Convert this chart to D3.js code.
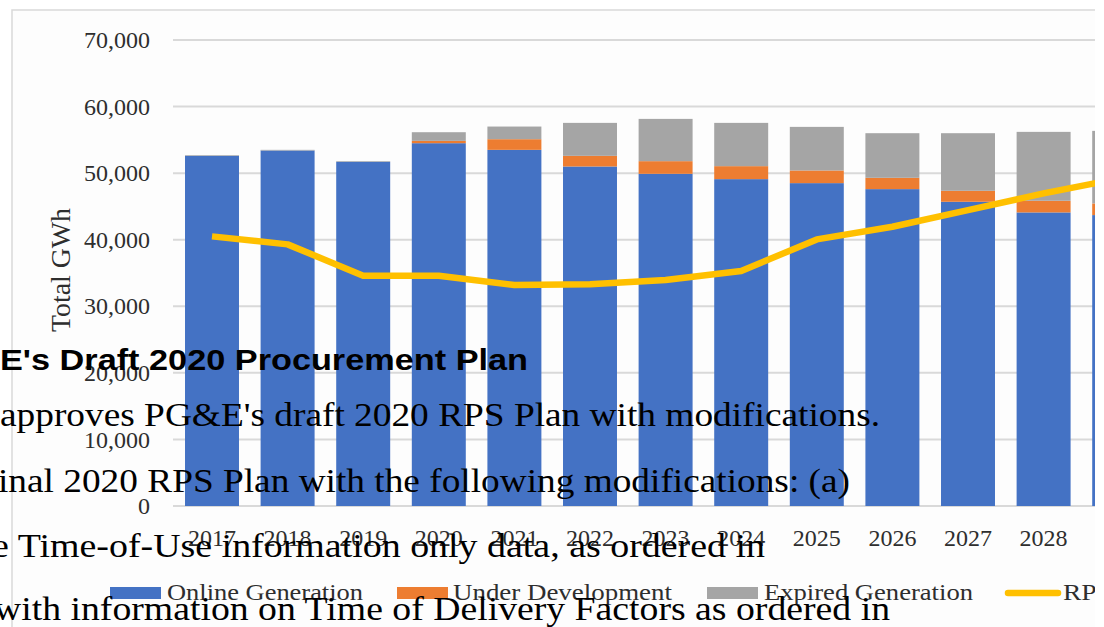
<!DOCTYPE html>
<html>
<head>
<meta charset="utf-8">
<script src="https://cdn.jsdelivr.net/npm/d3@7"></script>
<style>
  html, body { margin: 0; padding: 0; background: #ffffff; overflow: hidden; }
  svg { display: block; }
</style>
</head>
<body>
<svg id="chart" width="1104" height="627"></svg>
<script>
// ---- data ----
const years = ["2017","2018","2019","2020","2021","2022","2023","2024","2025","2026","2027","2028","2029"];
const onlineGeneration = [52600, 53400, 51700, 54500, 53500, 51000, 49900, 49100, 48500, 47600, 45700, 44100, 43700];
const underDevelopment = [0, 0, 0, 350, 1600, 1600, 1900, 1950, 1900, 1700, 1650, 1750, 1750];
const expiredGeneration = [100, 100, 100, 1300, 1900, 4950, 6350, 6500, 6550, 6700, 8650, 10350, 10900];
const rpsRequirement = [40500, 39300, 34600, 34600, 33200, 33300, 33950, 35300, 40050, 41950, 44450, 46950, 49200];
const yTicks = [0, 10000, 20000, 30000, 40000, 50000, 60000, 70000];
const seriesNames = ["Online Generation", "Under Development", "Expired Generation", "RPS Requirement"];
const seriesColors = ["#4472C4", "#ED7D31", "#A5A5A5", "#FFC000"];

// overlay document text
const heading = "E's Draft 2020 Procurement Plan";
const bodyLines = [
  "approves PG&E's draft 2020 RPS Plan with modifications.",
  "inal 2020 RPS Plan with the following modifications: (a)",
  "e Time-of-Use information only data, as ordered in",
  "with information on Time of Delivery Factors as ordered in"
];

const svg = d3.select("#chart");
const serif = "'Liberation Serif', 'Times New Roman', serif";
const labelColor = "#2e2e2e";

// clip for the chart picture (it ends just before the right edge)
svg.append("defs").append("clipPath").attr("id", "chartClip")
  .append("rect").attr("x", 0).attr("y", 0).attr("width", 1095).attr("height", 627);

const chart = svg.append("g").attr("clip-path", "url(#chartClip)");

// chart area background and border
chart.append("rect").attr("x", 12).attr("y", 10).attr("width", 1200).attr("height", 700)
  .attr("fill", "#fdfdfd").attr("stroke", "#d9d9d9").attr("stroke-width", 1.5);

const step = 75.6;
const x = d3.scaleBand().domain(years)
  .range([174.2, 174.2 + step * years.length])
  .paddingInner(0.286).paddingOuter(0.143);
const y = d3.scaleLinear().domain([0, 70000]).range([506, 40]);

// gridlines
chart.append("g").selectAll("line").data(yTicks).join("line")
  .attr("x1", 173).attr("x2", 1096)
  .attr("y1", d => y(d)).attr("y2", d => y(d))
  .attr("stroke", "#d9d9d9").attr("stroke-width", 2);

// y axis labels
const yAxis = d3.axisLeft(y).tickValues(yTicks).tickFormat(d3.format(",")).tickSize(0).tickPadding(0);
const yg = chart.append("g").attr("transform", "translate(150,0)").call(yAxis);
yg.select(".domain").remove();
yg.selectAll("text").attr("font-family", serif).attr("font-size", 24).attr("fill", labelColor);

// x axis labels
const xAxis = d3.axisBottom(x).tickSize(0).tickPadding(0);
const xg = chart.append("g").attr("transform", "translate(0,529)").call(xAxis);
xg.select(".domain").remove();
xg.selectAll("text").attr("font-family", serif).attr("font-size", 24).attr("fill", labelColor);

// stacked bars
const rows = years.map((yr, i) => ({ year: yr, online: onlineGeneration[i], under: underDevelopment[i], expired: expiredGeneration[i] }));
const stack = d3.stack().keys(["online", "under", "expired"])(rows);
chart.append("g").selectAll("g").data(stack).join("g")
  .attr("fill", (d, i) => seriesColors[i])
  .selectAll("rect").data(d => d).join("rect")
  .attr("x", d => x(d.data.year))
  .attr("width", x.bandwidth())
  .attr("y", d => y(d[1]))
  .attr("height", d => Math.max(0, y(d[0]) - y(d[1])));

// RPS line
const line = d3.line().x((d, i) => x(years[i]) + x.bandwidth() / 2).y(d => y(d));
chart.append("path").datum(rpsRequirement).attr("d", line)
  .attr("fill", "none").attr("stroke", seriesColors[3]).attr("stroke-width", 6.5)
  .attr("stroke-linejoin", "round");

// y axis title
chart.append("text").attr("transform", "translate(70,270) rotate(-90)")
  .attr("text-anchor", "middle").attr("font-family", serif).attr("font-size", 27)
  .attr("fill", labelColor).attr("textLength", 124).attr("lengthAdjust", "spacingAndGlyphs")
  .text("Total GWh");

// legend
const legendItems = [
  { name: seriesNames[0], color: seriesColors[0], sx: 110, tx: 167, w: 196, type: "rect" },
  { name: seriesNames[1], color: seriesColors[1], sx: 397, tx: 453, w: 219, type: "rect" },
  { name: seriesNames[2], color: seriesColors[2], sx: 707, tx: 764, w: 209, type: "rect" },
  { name: seriesNames[3], color: seriesColors[3], sx: 1005, tx: 1063, w: 198, type: "line" }
];
const lg = chart.append("g");
legendItems.forEach(it => {
  if (it.type === "rect") {
    lg.append("rect").attr("x", it.sx).attr("y", 587).attr("width", 51).attr("height", 12).attr("fill", it.color);
  } else {
    lg.append("line").attr("x1", it.sx + 3).attr("x2", it.sx + 53).attr("y1", 593).attr("y2", 593)
      .attr("stroke", it.color).attr("stroke-width", 6.5).attr("stroke-linecap", "round");
  }
  lg.append("text").attr("x", it.tx).attr("y", 600).attr("font-family", serif).attr("font-size", 24)
    .attr("fill", labelColor).attr("textLength", it.w).attr("lengthAdjust", "spacingAndGlyphs").text(it.name);
});

// overlay document text
svg.append("text").attr("x", 0).attr("y", 370)
  .attr("font-family", "'Liberation Sans', Arial, sans-serif").attr("font-weight", "bold")
  .attr("font-size", 29).attr("fill", "#000").attr("textLength", 528).attr("lengthAdjust", "spacingAndGlyphs")
  .text(heading);

const bodySpecs = [
  { x: 0, y: 426, w: 880 },
  { x: -2, y: 492, w: 852 },
  { x: -8, y: 557, w: 773 },
  { x: -6, y: 620, w: 896 }
];
bodyLines.forEach((t, i) => {
  svg.append("text").attr("x", bodySpecs[i].x).attr("y", bodySpecs[i].y)
    .attr("font-family", serif).attr("font-size", 34).attr("fill", "#000")
    .attr("textLength", bodySpecs[i].w).attr("lengthAdjust", "spacingAndGlyphs").text(t);
});
</script>
</body>
</html>
